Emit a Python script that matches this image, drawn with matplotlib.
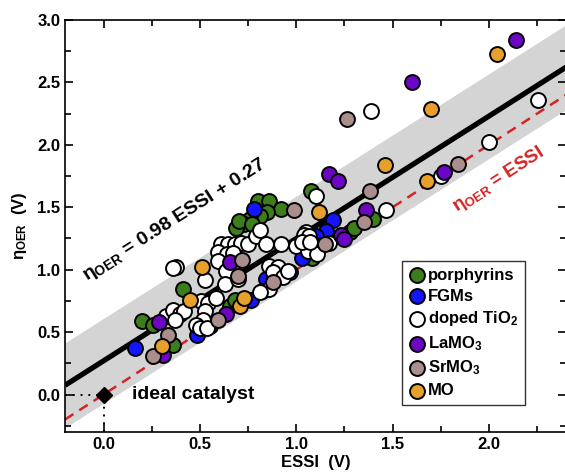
import numpy as np
import matplotlib
matplotlib.use("Agg")
import matplotlib.pyplot as plt
from matplotlib.ticker import MultipleLocator, FormatStrFormatter

plt.rcParams['font.family'] = ['Liberation Sans', 'DejaVu Sans']
plt.rcParams['font.weight'] = 'bold'
plt.rcParams['mathtext.fontset'] = 'custom'
plt.rcParams['mathtext.rm'] = 'Liberation Sans:bold'
plt.rcParams['mathtext.it'] = 'Liberation Sans:bold'
plt.rcParams['mathtext.bf'] = 'Liberation Sans:bold'

# ---- data ----
porph_x = [0.80, 0.86, 0.92, 0.85, 0.81, 0.76, 0.73, 0.69, 0.705, 0.77, 1.075, 1.40, 1.28, 1.30,
           1.08, 0.20, 0.256, 0.363, 0.41, 0.55, 0.655, 0.68]
porph_y = [1.55, 1.55, 1.49, 1.46, 1.43, 1.41, 1.37, 1.33, 1.39, 1.37, 1.63, 1.41, 1.30, 1.33,
           1.09, 0.59, 0.557, 0.40, 0.845, 0.55, 0.71, 0.76]

fgm_x = [0.78, 1.19, 1.155, 1.10, 1.095, 1.03, 0.97, 0.845, 0.765, 0.485, 0.165]
fgm_y = [1.49, 1.40, 1.31, 1.27, 1.20, 1.09, 0.98, 0.925, 0.755, 0.475, 0.37]

tio2_x = [1.39, 2.255, 2.00, 1.75, 1.10, 1.466, 1.05,
          0.61, 0.645, 0.68, 0.715, 0.75, 0.79, 0.81, 0.845, 0.92, 1.00, 1.05, 1.06, 1.11,
          0.595, 0.64, 0.67, 0.595, 0.86, 0.905, 0.88, 0.93, 0.955, 0.82, 0.86,
          0.377, 0.36, 0.524, 0.637, 0.63, 0.70, 1.04, 1.065, 1.03, 1.07, 1.17,
          0.325, 0.36, 0.395, 0.42, 0.37, 0.505, 0.54, 0.585, 0.524, 0.515, 0.48, 0.50, 0.536, 0.81]
tio2_y = [2.27, 2.36, 2.02, 1.75, 1.59, 1.48, 1.30,
          1.205, 1.205, 1.205, 1.21, 1.205, 1.27, 1.32, 1.205, 1.205, 1.19, 1.25, 1.15, 1.125,
          1.14, 1.125, 1.13, 1.07, 1.03, 1.02, 0.98, 0.94, 0.99, 0.83, 0.845,
          1.02, 1.01, 0.915, 0.99, 0.885, 0.925, 1.28, 1.27, 1.22, 1.22, 1.21,
          0.63, 0.68, 0.645, 0.67, 0.60, 0.75, 0.735, 0.775, 0.67, 0.60, 0.56, 0.53, 0.53, 0.82]

lamo3_x = [2.14, 1.60, 1.765, 1.17, 1.215, 1.36, 1.23, 1.25, 0.655, 0.29, 0.308, 0.637]
lamo3_y = [2.84, 2.50, 1.785, 1.77, 1.71, 1.48, 1.28, 1.245, 1.06, 0.58, 0.32, 0.643]

srmo3_x = [1.265, 1.84, 0.99, 1.385, 1.35, 1.147, 0.72, 0.70, 0.88, 0.594, 0.334, 0.255]
srmo3_y = [2.21, 1.85, 1.48, 1.63, 1.385, 1.205, 1.075, 0.95, 0.90, 0.60, 0.475, 0.31]

mo_x = [2.04, 1.70, 1.46, 1.68, 1.116, 0.512, 0.45, 0.305, 0.706, 0.73]
mo_y = [2.73, 2.29, 1.84, 1.71, 1.46, 1.02, 0.76, 0.39, 0.71, 0.77]

fit_slope = 0.98
fit_icept = 0.27
band_half = 0.34

series = [
    ("porphyrins", porph_x, porph_y, "#3c7d1c"),
    ("FGMs", fgm_x, fgm_y, "#1414ff"),
    ("doped TiO$_2$", tio2_x, tio2_y, "#ffffff"),
    ("LaMO$_3$", lamo3_x, lamo3_y, "#6c06c4"),
    ("SrMO$_3$", srmo3_x, srmo3_y, "#a98e8c"),
    ("MO", mo_x, mo_y, "#e8a02c"),
]

fig = plt.figure(figsize=(5.65, 4.75), dpi=100)
ax = fig.add_axes([65/565, 43/475, 501/565, 412/475])
xmin, xmax = -0.2, 2.4
ymin, ymax = -0.3, 3.0
ax.set_xlim(xmin, xmax)
ax.set_ylim(ymin, ymax)

xx = np.array([xmin, xmax])
fy = fit_slope * xx + fit_icept
ax.fill_between(xx, fy - band_half, fy + band_half, color="#d4d4d4", lw=0, zorder=1)
ax.plot(xx, fy, color="black", lw=3.8, zorder=2, solid_capstyle="butt")
ax.plot(xx, xx, color="#d42424", lw=1.8, ls=(0, (4, 2.8)), zorder=2)

# ideal catalyst
ax.plot([xmin, 0], [0, 0], color="black", lw=1.4, ls=(0, (1, 3)), zorder=2)
ax.plot([0, 0], [ymin, 0], color="black", lw=1.4, ls=(0, (1, 3)), zorder=2)
ax.plot([0], [0], marker="D", color="black", markersize=8, zorder=5)
ax.text(0.15, 0.0, "ideal catalyst", fontsize=14, fontweight="bold", va="center", ha="left")

for name, xs, ys, c in series:
    ax.scatter(xs, ys, s=115, facecolor=c, edgecolor="black", linewidths=1.4, zorder=4, label=name)

ang = np.degrees(np.arctan(fit_slope * (412 / (ymax - ymin)) / (501 / (xmax - xmin))))
ang1 = np.degrees(np.arctan(1.0 * (412 / (ymax - ymin)) / (501 / (xmax - xmin))))
ax.text(0.37, 1.40, r"$\eta_{\rm OER}$ = 0.98 ESSI + 0.27", fontsize=14, fontweight="bold",
        rotation=ang, rotation_mode="anchor", ha="center", va="center", zorder=6)
ax.text(2.05, 1.72, r"$\eta_{\rm OER}$ = ESSI", fontsize=13.5, fontweight="bold", color="#d42424",
        rotation=ang1, rotation_mode="anchor", ha="center", va="center", zorder=6)

ax.xaxis.set_major_locator(MultipleLocator(0.5))
ax.xaxis.set_minor_locator(MultipleLocator(0.25))
ax.yaxis.set_major_locator(MultipleLocator(0.5))
ax.yaxis.set_minor_locator(MultipleLocator(0.25))
ax.xaxis.set_major_formatter(FormatStrFormatter("%.1f"))
ax.yaxis.set_major_formatter(FormatStrFormatter("%.1f"))
ax.tick_params(which="both", direction="in", top=True, right=True, labelsize=12, width=1.2)
ax.tick_params(which="major", length=6)
ax.tick_params(which="minor", length=4)
for lbl in ax.get_xticklabels() + ax.get_yticklabels():
    lbl.set_fontweight("bold")
for sp in ax.spines.values():
    sp.set_linewidth(1.2)

ax.set_xlabel("ESSI  (V)", fontsize=12, fontweight="bold", labelpad=2)
ax.set_ylabel(r"$\eta_{\rm OER}$  (V)", fontsize=12, fontweight="bold", labelpad=6)

leg = ax.legend(loc="upper left", bbox_to_anchor=(0.672, 0.415), frameon=True, fancybox=False,
                edgecolor="black", fontsize=12, handletextpad=0.2, borderpad=0.4,
                labelspacing=0.35, handlelength=1.0, scatterpoints=1, borderaxespad=0)
leg.get_frame().set_linewidth(1.0)
leg.set_zorder(10)

fig.savefig("out.png", dpi=100)
